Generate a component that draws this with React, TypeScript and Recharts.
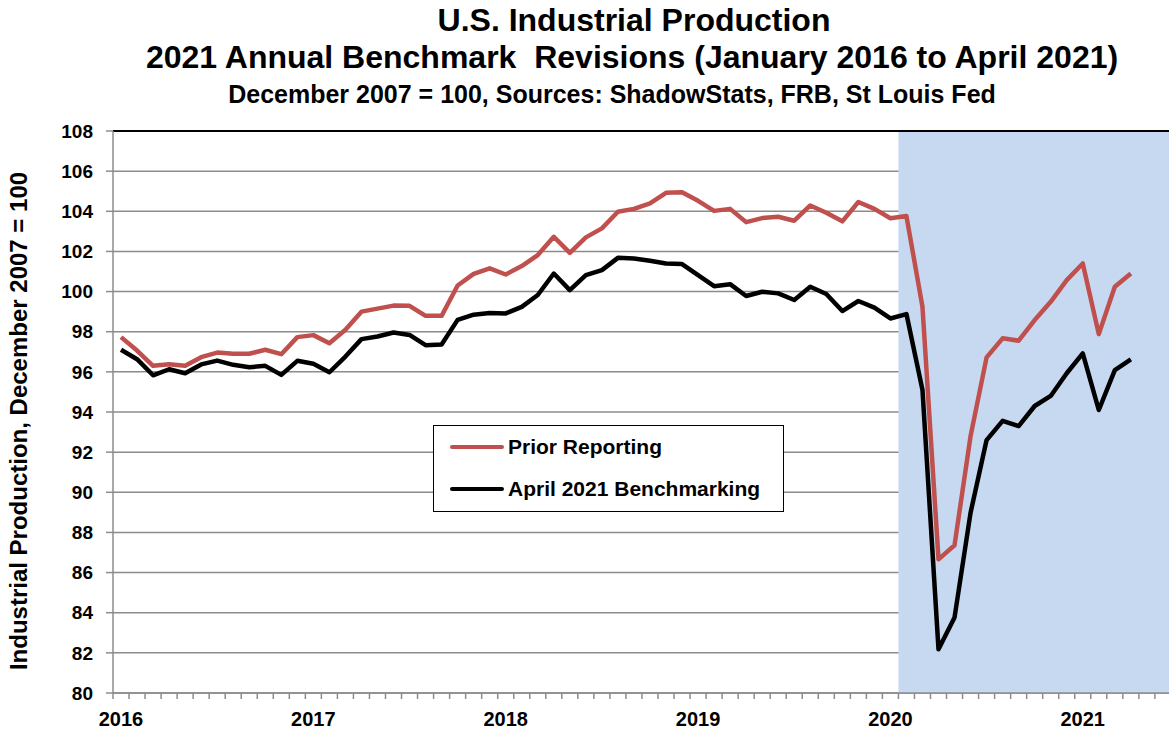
import React from 'react'
import { LineChart, Line, XAxis, YAxis, CartesianGrid, ReferenceArea, ReferenceLine, Legend } from 'recharts'

// monthly index values, Jan 2016 .. Apr 2021 (Dec 2007 = 100)
const yearLabels = ['2016', '2017', '2018', '2019', '2020', '2021']

const priorReporting = [
  97.73, 97.06, 96.3, 96.38, 96.3, 96.73, 96.96, 96.9, 96.9, 97.1, 96.88, 97.73,
  97.83, 97.43, 98.1, 99.0, 99.15, 99.3, 99.29, 98.79, 98.79, 100.3, 100.88, 101.16,
  100.85, 101.27, 101.82, 102.73, 101.93, 102.7, 103.15, 103.98, 104.12, 104.39, 104.92, 104.95,
  104.52, 104.02, 104.12, 103.46, 103.66, 103.73, 103.53, 104.29, 103.93, 103.5, 104.46, 104.12,
  103.65, 103.76, 99.24, 86.66, 87.36, 92.8, 96.72, 97.67, 97.55, 98.58, 99.49, 100.57,
  101.4, 97.88, 100.24, 100.9,
]

const april2021Benchmarking = [
  97.1, 96.63, 95.83, 96.13, 95.93, 96.37, 96.56, 96.35, 96.23, 96.3, 95.85, 96.55,
  96.4, 95.98, 96.76, 97.63, 97.76, 97.96, 97.84, 97.33, 97.36, 98.59, 98.85, 98.93,
  98.91, 99.24, 99.83, 100.9, 100.07, 100.82, 101.07, 101.68, 101.65, 101.54, 101.4, 101.37,
  100.82, 100.27, 100.37, 99.78, 99.99, 99.91, 99.58, 100.24, 99.88, 99.03, 99.53, 99.2,
  98.66, 98.88, 95.1, 82.18, 83.76, 88.98, 92.6, 93.56, 93.3, 94.3, 94.8, 95.93,
  96.92, 94.1, 96.09, 96.62,
]

const seriesNames = ['Prior Reporting', 'April 2021 Benchmarking']

const yTicks = [80, 82, 84, 86, 88, 90, 92, 94, 96, 98, 100, 102, 104, 106, 108]

const data = priorReporting.map((v, i) => ({ month: i, prior: v, bench: april2021Benchmarking[i] }))

// axis helpers
const xDomain: [number, number] = [-0.5, 65.38]
const monthTicks = Array.from({ length: 66 }, (_, k) => k - 0.5)
const yearTicks = yearLabels.map((_, k) => k * 12)
const shadeStart = 48.5 // end of January 2020

const FONT = '"Liberation Sans", Arial, Helvetica, sans-serif'
const RED = '#C0504D'
const GRAY = '#8C8C8C'

const renderLegend = (props: any) => {
  const items = [...(props.payload || [])].sort(
    (a: any, b: any) => seriesNames.indexOf(a.value) - seriesNames.indexOf(b.value)
  )
  return (
    <div
      style={{
        width: 351,
        height: 87,
        boxSizing: 'border-box',
        border: '1.5px solid #000',
        background: '#fff',
        fontFamily: FONT,
      }}
    >
      {items.map((entry: any) => (
        <div key={entry.value} style={{ display: 'flex', alignItems: 'center', height: 42 }}>
          <span style={{ display: 'inline-block', width: 54, height: 4, borderRadius: 2, background: entry.color, marginLeft: 16, marginRight: 4 }} />
          <span style={{ fontSize: 21, fontWeight: 'bold', color: '#000' }}>{entry.value}</span>
        </div>
      ))}
    </div>
  )
}

const YLabel = () => (
  <text
    x={27}
    y={421}
    transform="rotate(-90 27 421)"
    textAnchor="middle"
    fontSize={24}
    fontWeight="bold"
    fontFamily={FONT}
    fill="#000"
  >
    Industrial Production, December 2007 = 100
  </text>
)

const App: React.FC = () => {
  return (
    <div style={{ position: 'absolute', left: 0, top: 0, width: 1169, height: 732, background: '#fff', fontFamily: FONT }}>
      <div style={{ position: 'absolute', top: 1.5, left: 634, transform: 'translateX(-50%)', whiteSpace: 'nowrap', fontSize: 32, lineHeight: '37px', fontWeight: 'bold' }}>
        U.S. Industrial Production
      </div>
      <div style={{ position: 'absolute', top: 38.5, left: 632, transform: 'translateX(-50%)', whiteSpace: 'nowrap', fontSize: 32, lineHeight: '37px', fontWeight: 'bold' }}>
        2021 Annual Benchmark&nbsp; Revisions (January 2016 to April 2021)
      </div>
      <div style={{ position: 'absolute', top: 75.5, left: 612, transform: 'translateX(-50%)', whiteSpace: 'nowrap', fontSize: 25, lineHeight: '36px', fontWeight: 'bold' }}>
        December 2007 = 100, Sources: ShadowStats, FRB, St Louis Fed
      </div>

      <LineChart
        width={1169}
        height={732}
        data={data}
        margin={{ top: 131, right: 0, bottom: 0, left: 0 }}
        style={{ position: 'absolute', left: 0, top: 0 }}
      >
        <CartesianGrid vertical={false} stroke={GRAY} strokeWidth={1.5} xAxisId="month" />
        <ReferenceArea
          xAxisId="month"
          x1={shadeStart}
          x2={xDomain[1]}
          y1={80}
          y2={108}
          fill="#C6D9F1"
          fillOpacity={1}
          stroke="none"
        />
        <ReferenceLine xAxisId="month" y={108} stroke="#000" strokeWidth={2} />
        <XAxis
          xAxisId="month"
          type="number"
          dataKey="month"
          domain={xDomain}
          allowDataOverflow
          ticks={monthTicks}
          interval={0}
          tick={() => <g />}
          tickSize={6}
          height={1}
          axisLine={{ stroke: GRAY, strokeWidth: 1.5 }}
          tickLine={{ stroke: GRAY, strokeWidth: 1.5 }}
        />
        <XAxis
          xAxisId="year"
          type="number"
          dataKey="month"
          domain={xDomain}
          allowDataOverflow
          ticks={yearTicks}
          interval={0}
          tickFormatter={(v: number) => yearLabels[Math.round(v / 12)]}
          axisLine={false}
          tickLine={false}
          tickSize={6}
          tickMargin={12}
          height={38}
          tick={{ fill: '#000', fontSize: 20, fontWeight: 'bold', fontFamily: FONT }}
        />
        <YAxis
          domain={[80, 108]}
          ticks={yTicks}
          interval={0}
          width={113}
          tickSize={7}
          tickMargin={13}
          axisLine={{ stroke: GRAY, strokeWidth: 1.5 }}
          tickLine={{ stroke: GRAY, strokeWidth: 1.5 }}
          tick={{ fill: '#000', fontSize: 19, fontWeight: 'bold', fontFamily: FONT }}
          label={{ content: () => <YLabel /> }}
        />
        <Legend
          layout="vertical"
          align="center"
          verticalAlign="middle"
          content={renderLegend}
          wrapperStyle={{ position: 'absolute', left: 433, top: 425, width: 351, height: 87 }}
        />
        <Line
          xAxisId="month"
          type="linear"
          dataKey="prior"
          name={seriesNames[0]}
          stroke={RED}
          strokeWidth={4.5}
          strokeLinejoin="round"
          dot={false}
          activeDot={false}
          isAnimationActive={false}
        />
        <Line
          xAxisId="month"
          type="linear"
          dataKey="bench"
          name={seriesNames[1]}
          stroke="#000"
          strokeWidth={4.5}
          strokeLinejoin="round"
          dot={false}
          activeDot={false}
          isAnimationActive={false}
        />
      </LineChart>
    </div>
  )
}

export default App
